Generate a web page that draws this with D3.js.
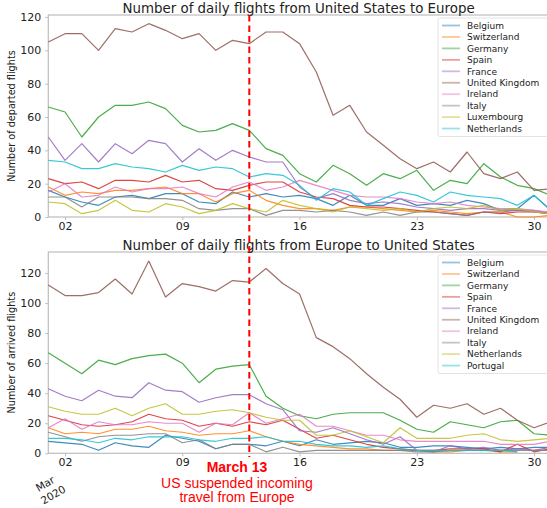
<!DOCTYPE html>
<html><head><meta charset="utf-8">
<script src="https://cdn.jsdelivr.net/npm/d3@7"></script>
<style>body{margin:0;background:#fff}svg{display:block}text{font-family:"DejaVu Sans",sans-serif}</style>
</head><body><svg id="c" width="547" height="508"></svg>
<script>
const days = d3.range(1, 32);
const xTickDays = [2, 9, 16, 23, 30];
const xTickLabels = ["02", "09", "16", "23", "30"];
const yTicks = [0, 20, 40, 60, 80, 100, 120];
const topTitle = "Number of daily flights from United States to Europe";
const bottomTitle = "Number of daily flights from Europe to United States";
const topYLabel = "Number of departed flights";
const bottomYLabel = "Number of arrived flights";
const eventDay = 13;

const topCountries = ["Belgium","Switzerland","Germany","Spain","France","United Kingdom","Ireland","Italy","Luxembourg","Netherlands"];
const topBelgium = [16,12,9,7,12,13,11,14,14,9,8,15,12,14,12,13,11,7,13,7,7,11,7,8,7,10,8,4,5,13,4];
const topSwitzerland = [18,13,15,14,16,16,17,18,14,14,9,14,16,10,7,5,5,4,6,6,5,4,3,4,3,2,3,3,0,0,1];
const topGermany = [66,63,48,60,67,67,69,65,55,51,52,56,52,41,37,26,21,31,26,19,26,23,28,16,22,20,32,24,19,17,13];
const topSpain = [23,20,21,17,22,22,21,25,21,22,17,16,19,21,21,15,12,11,7,6,6,5,4,3,2,1,3,2,3,3,2];
const topFrance = [48,34,44,33,44,38,46,44,33,41,34,40,36,33,33,18,11,14,10,8,9,8,6,5,4,5,5,4,4,4,2];
const topUK = [105,110,110,100,113,111,116,112,107,110,100,106,104,111,111,104,87,61,67,51,43,35,29,33,27,39,26,23,27,16,17];
const topIreland = [15,20,12,13,18,15,17,17,18,14,12,18,21,16,18,22,19,16,13,12,12,11,9,8,9,7,6,5,5,4,3];
const topItaly = [12,12,6,12,12,12,11,11,10,5,4,5,5,1,4,4,3,4,3,1,3,1,3,3,2,1,3,3,4,3,2];
const topLuxembourg = [9,8,2,4,10,4,3,8,6,2,4,8,5,3,10,7,5,3,6,5,4,5,3,5,6,5,7,4,5,3,2];
const topNetherlands = [34,33,29,29,32,30,29,27,31,28,30,29,24,26,25,19,10,17,15,7,11,15,13,9,15,13,12,11,7,13,4];
const topSeries = [topBelgium, topSwitzerland, topGermany, topSpain, topFrance, topUK, topIreland, topItaly, topLuxembourg, topNetherlands];

const botCountries = ["Belgium","Switzerland","Germany","Spain","France","United Kingdom","Ireland","Italy","Netherlands","Portugal"];
const botBelgium = [8,7,6,2,7,5,4,12,10,8,3,6,6,5,8,5,9,6,7,8,7,4,4,5,5,4,3,4,3,4,4];
const botSwitzerland = [17,13,14,13,16,16,18,15,14,12,13,13,15,11,8,6,5,4,3,3,2,2,2,1,1,2,2,1,1,null,null];
const botGermany = [67,60,53,62,59,63,65,66,60,47,56,58,59,38,30,25,23,26,27,27,27,22,16,14,21,19,17,21,22,13,12];
const botSpain = [25,22,19,18,19,21,26,23,22,18,20,18,21,19,22,16,10,12,9,6,4,3,2,2,3,3,3,1,6,1,3];
const botFrance = [43,38,35,42,38,37,47,42,41,34,37,39,39,33,29,15,14,17,13,9,6,11,2,1,5,3,4,2,3,2,4];
const botUK = [112,105,105,107,116,106,128,104,113,111,108,115,114,123,113,106,77,71,63,53,44,36,24,32,30,33,26,30,22,17,21];
const botIreland = [17,23,16,21,19,19,21,20,20,14,20,19,27,20,23,26,18,18,15,12,12,9,8,8,8,8,8,6,6,6,8];
const botItaly = [14,11,8,11,12,12,13,13,7,9,3,6,6,1,4,1,2,2,2,2,2,2,1,1,2,2,2,2,2,2,2];
const botNetherlands = [31,28,26,26,30,25,30,33,26,26,28,29,27,24,22,22,12,12,15,11,7,17,10,10,10,12,13,9,8,9,10];
const botPortugal = [10,10,9,7,10,9,11,11,11,9,8,10,10,11,8,8,6,5,5,4,5,3,2,2,2,2,2,2,1,null,null];
const botSeries = [botBelgium, botSwitzerland, botGermany, botSpain, botFrance, botUK, botIreland, botItaly, botNetherlands, botPortugal];

const colors = ["#1f77b4","#ff7f0e","#2ca02c","#d62728","#9467bd","#8c564b","#e377c2","#7f7f7f","#bcbd22","#17becf"];

const svg = d3.select("#c");
const x = d3.scaleLinear().domain([1, 31]).range([48.3, 550.8]);

function panel(cfg) {
  const y = d3.scaleLinear().domain([0, cfg.ymax]).range([cfg.bottom, cfg.top]);
  const g = svg.append("g");
  g.append("rect").attr("x", x(1)).attr("y", cfg.top).attr("width", x(31) - x(1)).attr("height", cfg.bottom - cfg.top)
    .attr("fill", "none").attr("stroke", "#bdbdbd").attr("stroke-width", 1.2);
  const ya = g.append("g").attr("transform", `translate(${x(1)},0)`)
    .call(d3.axisLeft(y).tickValues(yTicks).tickSize(3).tickPadding(4));
  const xa = g.append("g").attr("transform", `translate(0,${cfg.bottom})`)
    .call(d3.axisBottom(x).tickValues(xTickDays).tickFormat((d, i) => xTickLabels[i]).tickSize(3).tickPadding(2));
  [ya, xa].forEach(a => {
    a.select(".domain").remove();
    a.selectAll(".tick line").attr("stroke", "#bdbdbd");
    a.selectAll(".tick text").attr("fill", "#222").style("font-size", "11px").style("font-family", "DejaVu Sans");
  });
  const line = d3.line().defined(d => d != null).x((d, i) => x(days[i])).y(d => y(d));
  cfg.series.forEach((s, i) => {
    g.append("path").attr("d", line(s)).attr("fill", "none").attr("stroke", colors[i])
      .attr("stroke-width", 1.2).attr("stroke-opacity", 0.85).attr("stroke-linejoin", "round");
  });
  g.append("text").attr("x", (x(1) + x(31)) / 2 - 1).attr("y", cfg.top - 2.5).attr("text-anchor", "middle")
    .style("font-size", "13.4px").attr("fill", "#222").text(cfg.title);
  g.append("text").attr("transform", `translate(15,${(cfg.top + cfg.bottom) / 2}) rotate(-90)`)
    .attr("text-anchor", "middle").style("font-size", "9.7px").attr("fill", "#222").text(cfg.ylabel);
  const lx = 438, ly = cfg.top + 3, rowH = 11.45;
  const lg = g.append("g");
  lg.append("rect").attr("x", lx).attr("y", ly).attr("width", 110).attr("height", rowH * 10 + 4)
    .attr("rx", 2).attr("fill", "#fff").attr("fill-opacity", 0.85).attr("stroke", "#dcdcdc").attr("stroke-width", 0.8);
  cfg.names.forEach((n, i) => {
    const yy = ly + 7.5 + i * rowH;
    lg.append("line").attr("x1", lx + 4).attr("x2", lx + 22).attr("y1", yy).attr("y2", yy)
      .attr("stroke", colors[i]).attr("stroke-width", 1.8).attr("stroke-opacity", 0.45);
    lg.append("text").attr("x", lx + 29).attr("y", yy + 3.2).style("font-size", "9px").attr("fill", "#222").text(n);
  });
}

panel({top: 15, bottom: 217, ymax: 121.2, series: topSeries, names: topCountries, title: topTitle, ylabel: topYLabel});
panel({top: 252, bottom: 453.3, ymax: 134, series: botSeries, names: botCountries, title: bottomTitle, ylabel: bottomYLabel});

svg.append("line").attr("x1", x(eventDay)).attr("x2", x(eventDay)).attr("y1", 15).attr("y2", 457)
  .attr("stroke", "#ff0000").attr("stroke-width", 2).attr("stroke-dasharray", "6.5,4");

const ann = svg.append("g").attr("fill", "#ff0000").style("font-size", "14px").attr("text-anchor", "middle");
ann.append("text").attr("x", 237).attr("y", 472).style("font-weight", "bold").style("font-family", "'Liberation Sans', Arial, sans-serif").text("March 13");
ann.append("text").attr("x", 237).attr("y", 487.5).style("font-family", "'Liberation Sans', Arial, sans-serif").text("US suspended incoming");
ann.append("text").attr("x", 237).attr("y", 502).style("font-family", "'Liberation Sans', Arial, sans-serif").text("travel from Europe");

const ml = svg.append("g").style("font-size", "10.5px").attr("fill", "#222").attr("text-anchor", "middle");
ml.append("text").attr("transform", "translate(47,487) rotate(-30)").text("Mar");
ml.append("text").attr("transform", "translate(55,498) rotate(-30)").text("2020");
</script></body></html>
